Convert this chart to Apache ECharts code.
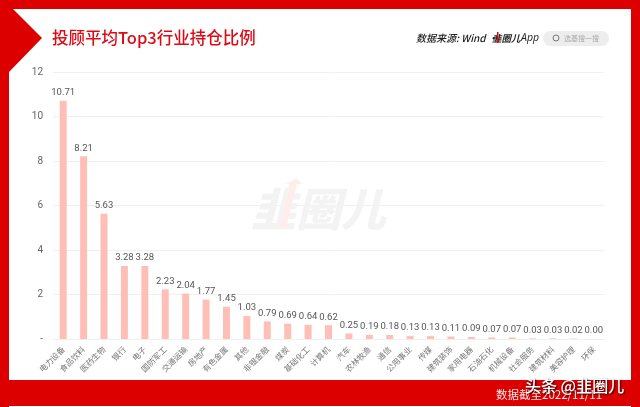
<!DOCTYPE html>
<html><head><meta charset="utf-8">
<style>html,body{margin:0;padding:0;background:#fff}#c{width:640px;height:407px}</style>
<script src="https://cdn.jsdelivr.net/npm/echarts@6/dist/echarts.min.js"></script>
</head><body><div id="c"></div>
<script>
const categories = ['电力设备','食品饮料','医药生物','银行','电子','国防军工','交通运输','房地产','有色金属','其他','非银金融','煤炭','基础化工','计算机','汽车','农林牧渔','通信','公用事业','传媒','建筑装饰','家用电器','石油石化','机械设备','社会服务','建筑材料','美容护理','环保'];
const values = [10.71,8.21,5.63,3.28,3.28,2.23,2.04,1.77,1.45,1.03,0.79,0.69,0.64,0.62,0.25,0.19,0.18,0.13,0.13,0.11,0.09,0.07,0.07,0.03,0.03,0.02,0.00];
const yTicks = ['-','2','4','6','8','10','12'];
const titleText = '投顾平均Top3行业持仓比例';
const FONT = '"Noto Sans CJK SC","Noto Sans",sans-serif';
const RED = '#DD0000';
const chart = echarts.init(document.getElementById('c'), null, {renderer:'canvas'});
chart.setOption({
  animation:false,
  backgroundColor:'#fff',
  grid:{left:53,right:36,top:72,bottom:68,containLabel:false},
  xAxis:{type:'category',data:categories,
    axisLine:{lineStyle:{color:'#f0f0f0',width:1}},axisTick:{show:false},
    axisLabel:{interval:0,rotate:45,fontSize:8,color:'#777',fontFamily:FONT,margin:9}},
  yAxis:{type:'value',min:0,max:12,interval:2,
    axisLine:{show:false},axisTick:{show:false},
    splitLine:{lineStyle:{color:'#f0f0f0',width:1}},
    axisLabel:{color:'#666',fontSize:10,fontFamily:'Roboto',margin:10,formatter:v=>yTicks[v/2]}},
  series:[{type:'bar',data:values,barWidth:7,
    itemStyle:{color:'#FFBFB6'},
    z:3,
    label:{show:true,position:'top',distance:3,fontSize:9.5,color:'#555',fontFamily:'Roboto',formatter:p=>p.value.toFixed(2)}}],
  graphic:[
    {type:'rect',silent:true,z:0,shape:{x:0,y:0,width:640,height:9},style:{fill:RED}},
    {type:'rect',silent:true,z:0,shape:{x:0,y:380,width:640,height:26},style:{fill:RED}},
    {type:'rect',silent:true,z:0,shape:{x:0,y:0,width:9,height:407},style:{fill:RED}},
    {type:'rect',silent:true,z:0,shape:{x:631,y:0,width:9,height:407},style:{fill:RED}},
    {type:'polygon',silent:true,z:0,shape:{points:[[9,9],[13,9],[42,38],[9,72]]},style:{fill:RED}},
    {type:'text',silent:true,z:5,x:52,y:38,style:{text:titleText,fill:'#DD0A14',font:'500 16.5px '+FONT,textVerticalAlign:'middle'}},
    {type:'text',silent:true,z:5,x:416,y:38,style:{text:'数据来源: Wind ·',fill:'#222',font:'italic 500 10px '+FONT,textVerticalAlign:'middle'}},
    {type:'text',silent:true,z:5,x:492,y:38,style:{text:'韭圈儿',fill:'#222',font:'italic 700 9.5px '+FONT,textVerticalAlign:'middle'}},
    {type:'rect',silent:true,z:6,shape:{x:497,y:32,width:1.5,height:11},style:{fill:'#DD0A14'}},
    {type:'text',silent:true,z:5,x:521,y:38,style:{text:'App',fill:'#222',font:'italic 500 10.5px "Open Sans",sans-serif',textVerticalAlign:'middle'}},
    {type:'rect',silent:true,z:5,shape:{x:543,y:31,width:66,height:15,r:7.5},style:{fill:'#EDEDED'}},
    {type:'circle',silent:true,z:6,shape:{cx:556,cy:38,r:3},style:{fill:'none',stroke:'#777',lineWidth:1}},
    {type:'text',silent:true,z:6,x:564,y:38.5,style:{text:'选基搜一搜',fill:'#aaa',font:'7px '+FONT,textVerticalAlign:'middle'}},
    {type:'text',silent:true,z:1,x:251,y:209,style:{text:'韭圈儿',fill:'#F3F3F3',font:'italic 900 45px '+FONT,textVerticalAlign:'middle'}},
    {type:'polygon',silent:true,z:1,shape:{points:[[279,228],[290,184],[286,184],[296,178],[302,184],[297,184],[286,228]]},style:{fill:'#FDEEEB'}},
    {type:'text',silent:true,z:8,x:496,y:395,style:{text:'数据截至2022/11/11',fill:'#F8E6E6',font:'11.5px '+FONT,textVerticalAlign:'middle'}},
    {type:'text',silent:true,z:9,x:525,y:386,style:{text:'头条 @韭圈儿',fill:'#fff',font:'500 16px '+FONT,textVerticalAlign:'middle',textShadowColor:'rgba(0,0,0,0.9)',textShadowBlur:2,textShadowOffsetX:1,textShadowOffsetY:1}}
  ]
});
</script></body></html>
